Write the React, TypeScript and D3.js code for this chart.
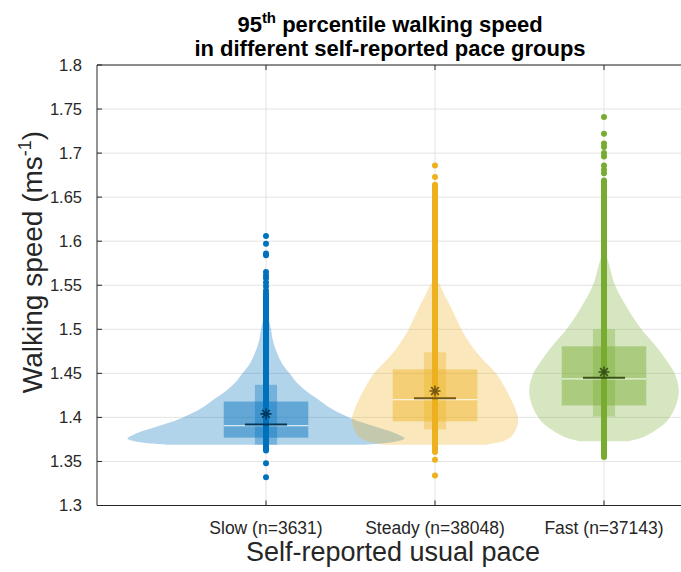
import React from 'react';
import * as d3 from 'd3';

const categories = ['Slow (n=3631)', 'Steady (n=38048)', 'Fast (n=37143)'];
const groupColors = ['#0072BD', '#EDB120', '#77AC30'];
const yTicks = [1.3, 1.35, 1.4, 1.45, 1.5, 1.55, 1.6, 1.65, 1.7, 1.75, 1.8];

// density outline of each violin: walking speed and relative density
const slowSpeeds = [1.369, 1.372, 1.376, 1.38, 1.385, 1.39, 1.395, 1.4, 1.41, 1.42, 1.43, 1.44, 1.45, 1.46, 1.473, 1.487, 1.5, 1.51, 1.52, 1.525];
const slowDensity = [0.72, 0.92, 1.0, 0.96, 0.88, 0.78, 0.68, 0.6, 0.47, 0.38, 0.29, 0.22, 0.17, 0.12, 0.08, 0.05, 0.036, 0.022, 0.011, 0];
const steadySpeeds = [1.369, 1.373, 1.378, 1.385, 1.395, 1.405, 1.42, 1.435, 1.45, 1.465, 1.48, 1.5, 1.525, 1.54, 1.55, 1.556, 1.56];
const steadyDensity = [0.36, 0.49, 0.55, 0.58, 0.6, 0.59, 0.55, 0.5, 0.44, 0.35, 0.27, 0.19, 0.115, 0.065, 0.036, 0.007, 0];
const fastSpeeds = [1.373, 1.378, 1.385, 1.395, 1.41, 1.43, 1.45, 1.465, 1.48, 1.5, 1.525, 1.55, 1.57, 1.59, 1.595];
const fastDensity = [0.18, 0.29, 0.37, 0.45, 0.51, 0.54, 0.51, 0.45, 0.38, 0.27, 0.165, 0.08, 0.043, 0.007, 0];

// box summaries (one value per group)
const q1 = [1.377, 1.3955, 1.4136];
const q3 = [1.418, 1.4545, 1.4807];
const innerLow = [1.369, 1.3864, 1.401];
const innerHigh = [1.437, 1.4739, 1.5];
const medians = [1.392, 1.4216, 1.4451];
const means = [1.404, 1.43, 1.4515];

// individual data points: dense run plus separate points
const denseLow = [1.3625, 1.3606, 1.355];
const denseHigh = [1.541, 1.664, 1.669];
const slowPoints = [1.332, 1.348, 1.544, 1.549, 1.553, 1.558, 1.561, 1.565, 1.584, 1.586, 1.597, 1.606];
const steadyPoints = [1.334, 1.352, 1.673, 1.686];
const fastPoints = [1.677, 1.681, 1.686, 1.696, 1.7, 1.707, 1.711, 1.722, 1.741];

const width = 681;
const height = 572;
const font = '"Liberation Sans", Arial, Helvetica, sans-serif';
const ink = '#262626';

const App = () => {
  const x = d3.scaleLinear().domain([0, 3.5]).range([97, 688.5]);
  const y = d3.scaleLinear().domain([1.3, 1.8]).range([505.5, 65]);
  const w = d3.scaleLinear().domain([0, 1]).range([0, x(0.82) - x(0)]);

  const violins = [
    d3.zip(slowSpeeds, slowDensity),
    d3.zip(steadySpeeds, steadyDensity),
    d3.zip(fastSpeeds, fastDensity),
  ];
  const points = [slowPoints, steadyPoints, fastPoints];

  const top = y(1.8);
  const bottom = y(1.3);
  const left = x(0);
  const right = x(3.5);

  const star = (s: number) => {
    const a = s * 0.7;
    return `M${-s},0L${s},0M0,${-s}L0,${s}M${-a},${-a}L${a},${a}M${-a},${a}L${a},${-a}`;
  };

  return (
    <svg width={width} height={height} style={{ position: 'absolute', left: 0, top: 0, background: '#fff' }} fontFamily={font}>
      {/* grid */}
      {yTicks.map(t => (
        <line key={'gy' + t} x1={left} x2={right} y1={y(t)} y2={y(t)} stroke="#e3e3e3" strokeWidth={1} />
      ))}
      {categories.map((c, i) => (
        <line key={'gx' + c} x1={x(i + 1)} x2={x(i + 1)} y1={top} y2={bottom} stroke="#e3e3e3" strokeWidth={1} />
      ))}

      {violins.map((v, i) => {
        const cx = x(i + 1);
        const col = groupColors[i];
        const area = d3.area<number[]>()
          .y(d => y(d[0]))
          .x0(d => cx - w(d[1]))
          .x1(d => cx + w(d[1]))
          .curve(d3.curveCatmullRom);
        const dark = d3.color(col)!.darker(2).formatHex();
        const boxHalf = w(0.305);
        const innerHalf = w(0.08);
        const lineHalf = w(0.152);
        return (
          <g key={categories[i]}>
            <path d={area(v) || ''} fill={col} fillOpacity={0.3} />
            <rect x={cx - boxHalf} width={boxHalf * 2} y={y(q3[i])} height={y(q1[i]) - y(q3[i])} fill={col} fillOpacity={0.45} />
            <rect x={cx - innerHalf} width={innerHalf * 2} y={y(innerHigh[i])} height={y(innerLow[i]) - y(innerHigh[i])} fill={col} fillOpacity={0.35} />
            <line x1={cx - boxHalf} x2={cx + boxHalf} y1={y(medians[i]) + 1.2} y2={y(medians[i]) + 1.2} stroke="#fff" strokeOpacity={0.75} strokeWidth={1.3} />
            <line x1={cx} x2={cx} y1={y(denseLow[i])} y2={y(denseHigh[i])} stroke={col} strokeWidth={6} strokeLinecap="round" />
            {points[i].map((p, j) => (
              <circle key={j} cx={cx} cy={y(p)} r={3} fill={col} />
            ))}
            <line x1={cx - lineHalf} x2={cx + lineHalf} y1={y(medians[i])} y2={y(medians[i])} stroke={dark} strokeWidth={2} />
            <path d={star(5.5)} transform={`translate(${cx},${y(means[i])})`} stroke={dark} strokeWidth={1.6} fill="none" />
          </g>
        );
      })}

      {/* axes frame */}
      <line x1={left} x2={left} y1={top} y2={bottom} stroke={ink} strokeWidth={1} />
      <line x1={left} x2={right} y1={top} y2={top} stroke={ink} strokeWidth={1} />
      <line x1={left} x2={right} y1={bottom} y2={bottom} stroke={ink} strokeWidth={1} />
      {yTicks.map(t => (
        <g key={'ty' + t}>
          <line x1={left} x2={left + 5} y1={y(t)} y2={y(t)} stroke={ink} />
          <text x={82} y={y(t)} dy="0.36em" textAnchor="end" fontSize={16.5} fill={ink}>{d3.format('')(t)}</text>
        </g>
      ))}
      {categories.map((c, i) => (
        <g key={'tx' + c}>
          <line x1={x(i + 1)} x2={x(i + 1)} y1={bottom} y2={bottom - 5} stroke={ink} />
          <line x1={x(i + 1)} x2={x(i + 1)} y1={top} y2={top + 5} stroke={ink} />
          <text x={x(i + 1)} y={534} textAnchor="middle" fontSize={17.5} fill={ink}>{c}</text>
        </g>
      ))}

      <text x={393} y={561} textAnchor="middle" fontSize={27} fill={ink}>Self-reported usual pace</text>
      <text transform="translate(42,262) rotate(-90)" textAnchor="middle" fontSize={28} fill={ink}>
        Walking speed (ms<tspan fontSize={18} dy={-11}>-1</tspan><tspan dy={11}>)</tspan>
      </text>

      <text x={390} y={32} textAnchor="middle" fontSize={22} fontWeight="bold" fill="#000">
        95<tspan fontSize={15} dy={-9}>th</tspan><tspan dy={9}> percentile walking speed</tspan>
      </text>
      <text x={390} y={56} textAnchor="middle" fontSize={22} fontWeight="bold" fill="#000">
        in different self-reported pace groups
      </text>
    </svg>
  );
};

export default App;
